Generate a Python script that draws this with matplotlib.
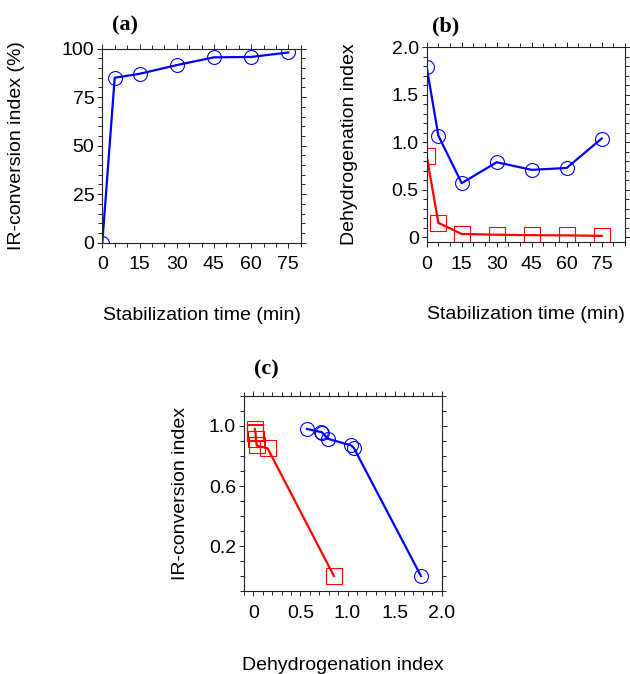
import matplotlib
matplotlib.use('Agg')
import matplotlib.pyplot as plt
from matplotlib.ticker import MultipleLocator

plt.rcParams['font.family'] = ['Liberation Sans', 'DejaVu Sans']
plt.rcParams['font.size'] = 14

# Stabilization series
time_min = [0, 5, 15, 30, 45, 60, 75]
ir_conversion_pct = [0, 85, 87, 91.5, 95.5, 95.7, 98]
dehydro_blue = [1.79, 1.07, 0.57, 0.79, 0.71, 0.73, 1.04]
dehydro_red = [0.855, 0.152, 0.035, 0.027, 0.022, 0.02, 0.015]

# Panel (c): IR-conversion vs dehydrogenation, ordered by dehydrogenation index
c_blue_x = [0.57, 0.716, 0.733, 0.79, 1.04, 1.07, 1.78]
c_blue_y = [0.98, 0.96, 0.955, 0.915, 0.87, 0.85, 0.0]
c_red_x = [0.015, 0.02, 0.022, 0.027, 0.035, 0.152, 0.855]
c_red_y = [0.98, 0.96, 0.955, 0.915, 0.87, 0.85, 0.0]

time_ticks = [0, 15, 30, 45, 60, 75]
ir_pct_ticks = [0, 25, 50, 75, 100]
dehydro_ticks = [0, 0.5, 1.0, 1.5, 2.0]
dehydro_ticklabels = ['0', '0.5', '1.0', '1.5', '2.0']
ir_ticks = [0.2, 0.6, 1.0]
ir_ticklabels = ['0.2', '0.6', '1.0']

BLUE = '#0000ff'
RED = '#ff0000'


def style_axes(ax):
    for s in ax.spines.values():
        s.set_linewidth(0.8)
        s.set_color('#222222')
    ax.tick_params(which='both', direction='out', top=True, right=True,
                   width=0.7, color='#222222')
    ax.tick_params(which='major', length=3.8)
    ax.tick_params(which='minor', length=2.6)
    ax.tick_params(axis='y', pad=2)
    ax.tick_params(axis='x', pad=6)
    ax.tick_params(labeltop=False, labelright=False)


def circles(ax, x, y):
    ax.plot(x, y, color=BLUE, lw=1.6, marker='o', ms=10, mfc='none',
            mec=BLUE, mew=0.8)


def squares(ax, x, y):
    ax.plot(x, y, color=RED, lw=1.6, marker='s', ms=11, mfc='none',
            mec=RED, mew=0.8)


def main():
    fig = plt.figure(figsize=(6.3, 6.74), dpi=100)

    # (a) IR-conversion index vs time
    ax_a = fig.add_axes([0.1624, 0.6399, 0.3149, 0.2880])
    circles(ax_a, time_min, ir_conversion_pct)
    ax_a.set_xlim(0, 80)
    ax_a.set_ylim(0, 100)
    ax_a.set_xticks(time_ticks)
    ax_a.set_yticks(ir_pct_ticks)
    ax_a.xaxis.set_minor_locator(MultipleLocator(5))
    ax_a.yaxis.set_minor_locator(MultipleLocator(5))
    style_axes(ax_a)
    ax_a.set_xlabel('Stabilization time (min)')
    ax_a.set_ylabel('IR-conversion index (%)')
    ax_a.xaxis.set_label_coords(0.5, -0.33)
    ax_a.yaxis.set_label_coords(-0.39, 0.5)

    # (b) dehydrogenation index vs time
    ax_b = fig.add_axes([0.6773, 0.6409, 0.3148, 0.2889])
    circles(ax_b, time_min, dehydro_blue)
    squares(ax_b, time_min, dehydro_red)
    ax_b.set_xlim(0, 85)
    ax_b.set_ylim(-0.05, 2.0)
    ax_b.set_xticks(time_ticks)
    ax_b.set_yticks(dehydro_ticks)
    ax_b.set_yticklabels(dehydro_ticklabels)
    ax_b.xaxis.set_minor_locator(MultipleLocator(5))
    ax_b.yaxis.set_minor_locator(MultipleLocator(0.1))
    style_axes(ax_b)
    ax_b.set_xlabel('Stabilization time (min)')
    ax_b.set_ylabel('Dehydrogenation index')
    ax_b.xaxis.set_label_coords(0.5, -0.33)
    ax_b.yaxis.set_label_coords(-0.345, 0.5)

    # (c) IR-conversion index vs dehydrogenation index
    ax_c = fig.add_axes([0.3873, 0.1231, 0.3138, 0.2894])
    circles(ax_c, c_blue_x, c_blue_y)
    squares(ax_c, c_red_x, c_red_y)
    ax_c.set_xlim(-0.1, 2.0)
    ax_c.set_ylim(-0.1, 1.2)
    ax_c.set_xticks(dehydro_ticks)
    ax_c.set_xticklabels(dehydro_ticklabels)
    ax_c.set_yticks(ir_ticks)
    ax_c.set_yticklabels(ir_ticklabels)
    ax_c.xaxis.set_minor_locator(MultipleLocator(0.1))
    ax_c.yaxis.set_minor_locator(MultipleLocator(0.1))
    style_axes(ax_c)
    ax_c.set_xlabel('Dehydrogenation index')
    ax_c.set_ylabel('IR-conversion index')
    ax_c.xaxis.set_label_coords(0.5, -0.34)
    ax_c.yaxis.set_label_coords(-0.28, 0.5)

    # panel letters
    for x, y, s in [(125, 25, '(a)'), (445.5, 26.5, '(b)'), (266, 369.5, '(c)')]:
        fig.text(x / 630, 1 - y / 674, s, ha='center', va='center',
                 family='Liberation Serif', fontweight='bold', fontsize=16)

    fig.savefig('out.png', dpi=100)
    plt.close(fig)


if __name__ == "__main__":
    main()
